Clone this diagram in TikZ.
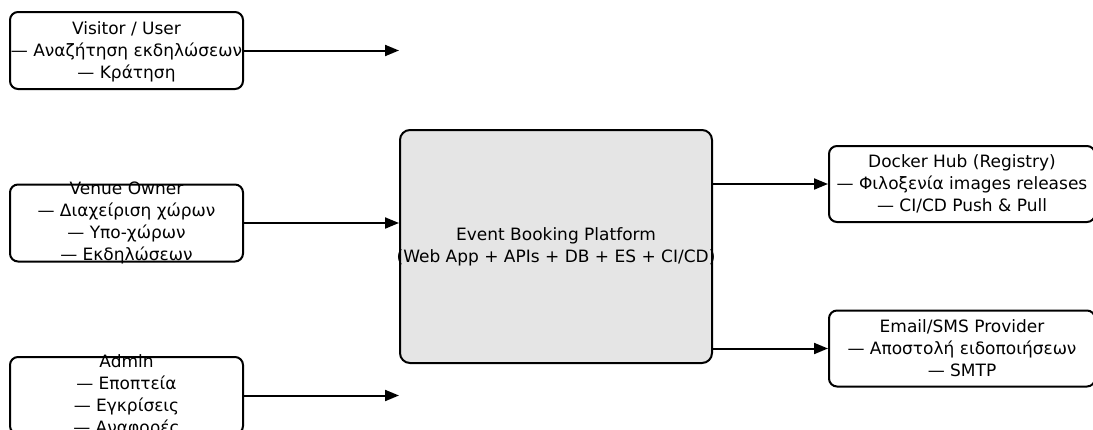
\documentclass[tikz,border=0pt]{standalone}
\usepackage{fontspec}
\setmainfont{DejaVu Sans}
\usetikzlibrary{arrows.meta}
\tikzset{
  actor/.style={draw=black, line width=2pt, rounded corners=8pt, fill=white,
    minimum width=233pt, minimum height=77pt, inner sep=0pt},
  service/.style={actor, minimum width=266pt, minimum height=76pt},
  core/.style={draw=black, line width=2pt, rounded corners=10pt, fill=black!10,
    minimum width=312pt, minimum height=233pt, inner sep=0pt},
  txt/.style={align=center, font=\fontsize{17}{22}\selectfont, inner sep=0pt, text=black},
  flow/.style={line width=2pt, -{Triangle[length=14pt,width=11pt]}}
}
\begin{document}
\begin{tikzpicture}[x=1pt,y=-1pt]
  \useasboundingbox (0,0) rectangle (1093,429);
  \fill[white] (0,0) rectangle (1093,429);
  \clip (0,0) rectangle (1093,429);

  % actors on the left
  \node[actor] (visitor) at (126.5,50.5) {};
  \node[txt] (visitorT) at ([yshift=-1pt]visitor.center) {Visitor / User\\— Αναζήτηση εκδηλώσεων\\— Κράτηση};

  \node[actor] (venue) at (126.5,223) {};
  \node[txt] (venueT) at (venue.center) {Venue Owner\\— Διαχείριση χώρων\\— Υπο-χώρων\\— Εκδηλώσεων};

  \node[actor] (admin) at (126.5,395.5) {};
  \node[txt] (adminT) at (admin.center) {Admin\\— Εποπτεία\\— Εγκρίσεις\\— Αναφορές};

  % the platform itself
  \node[core] (core) at (556,246.5) {};
  \node[txt] (coreT) at (core.center) {Event Booking Platform\\(Web App + APIs + DB + ES + CI/CD)};

  % external services on the right
  \node[service] (docker) at (962,184) {};
  \node[txt] (dockerT) at (docker.center) {Docker Hub (Registry)\\— Φιλοξενία images releases\\— CI/CD Push \& Pull};

  \node[service] (email) at (962,348.5) {};
  \node[txt] (emailT) at (email.center) {Email/SMS Provider\\— Αποστολή ειδοποιήσεων\\— SMTP};

  % flows
  \coordinate (visitorEnd) at (visitor.east -| core.west);
  \coordinate (venueEnd) at (venue.east -| core.west);
  \coordinate (adminEnd) at (admin.east -| core.west);
  \coordinate (dockerStart) at (docker.west -| core.east);
  \coordinate (emailStart) at (email.west -| core.east);

  \draw[flow] (visitor.east) -- (visitorEnd);
  \draw[flow] (venue.east) -- (venueEnd);
  \draw[flow] (admin.east) -- (adminEnd);
  \draw[flow] (dockerStart) -- (docker.west);
  \draw[flow] (emailStart) -- (email.west);
\end{tikzpicture}
\end{document}
